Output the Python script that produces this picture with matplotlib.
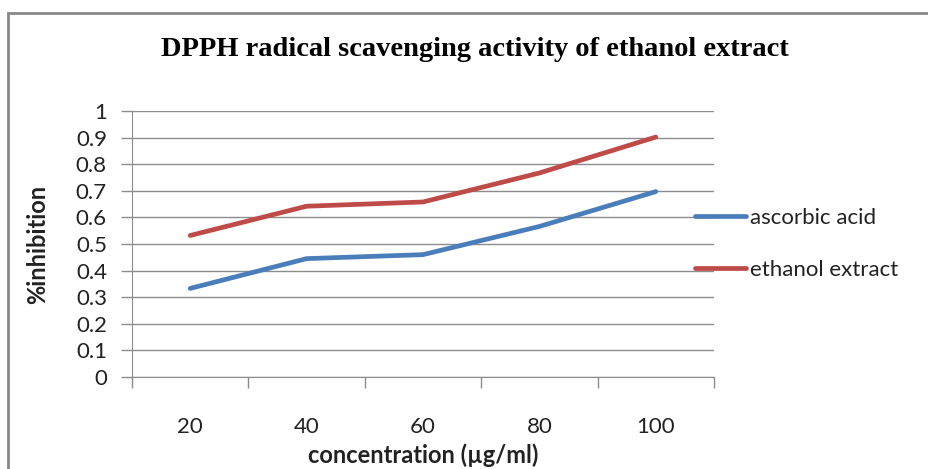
import matplotlib
matplotlib.use("Agg")
import matplotlib.pyplot as plt
from matplotlib.patches import Rectangle

# data
concentrations = ["20", "40", "60", "80", "100"]
ascorbic_acid = [0.333, 0.445, 0.460, 0.566, 0.697]
ethanol_extract = [0.532, 0.642, 0.658, 0.767, 0.902]
y_ticks = [0, 0.1, 0.2, 0.3, 0.4, 0.5, 0.6, 0.7, 0.8, 0.9, 1]
y_tick_labels = ["0", "0.1", "0.2", "0.3", "0.4", "0.5", "0.6", "0.7", "0.8", "0.9", "1"]

GRID = "#8c8c8c"
BLUE = "#4a7ebb"
RED = "#be4b48"
TEXT = "#222222"

plt.rcParams["font.family"] = ["Lato", "DejaVu Sans"]

W, H = 929, 469
fig = plt.figure(figsize=(W / 100, H / 100), dpi=100)
ax = fig.add_axes([132 / W, 1 - 377 / H, (714 - 132) / W, (377 - 111) / H])

x = list(range(len(concentrations)))
ax.plot(x, ascorbic_acid, color=BLUE, lw=3.4, label="ascorbic acid", solid_capstyle="round")
ax.plot(x, ethanol_extract, color=RED, lw=3.4, label="ethanol extract", solid_capstyle="round")

ax.set_xlim(-0.5, len(concentrations) - 0.5)
ax.set_ylim(0, 1)
ax.set_yticks(y_ticks)
ax.set_yticklabels(y_tick_labels, fontsize=16, color=TEXT)
ax.set_xticks(x)
ax.set_xticklabels(concentrations, fontsize=16, color=TEXT)
ax.set_xticks([i - 0.5 for i in range(len(concentrations) + 1)], minor=True)
ax.tick_params(axis="x", which="major", length=0, pad=29)
ax.tick_params(axis="x", which="minor", length=8, color=GRID, width=1)
ax.tick_params(axis="y", length=8, color=GRID, width=1, pad=10)

ax.grid(axis="y", color=GRID, lw=1)
ax.set_axisbelow(True)
for side in ["top", "right"]:
    ax.spines[side].set_visible(False)
for side in ["left", "bottom"]:
    ax.spines[side].set_color(GRID)

ax.set_xlabel("concentration (µg/ml)", fontsize=17, fontweight="bold", color=TEXT)
ax.xaxis.set_label_coords(0.5, -(455 - 377) / (377 - 111))
ax.set_ylabel("%inhibition", fontsize=17, fontweight="bold", color=TEXT)
ax.yaxis.set_label_coords(-(132 - 38) / (714 - 132), 0.5)
ax.yaxis.label.set_va("center")
ax.xaxis.label.set_va("center")

fig.text(475 / W, 1 - 50 / H, "DPPH radical scavenging activity of ethanol extract",
         family="Liberation Serif", fontweight="bold", fontsize=20.5, color="black",
         ha="center", va="center")

ax.legend(loc="center left", bbox_to_anchor=(686 / W, 1 - 244 / H), bbox_transform=fig.transFigure,
          frameon=False, fontsize=16, handlelength=2.3, handletextpad=0.2, labelspacing=1.45,
          borderaxespad=0, labelcolor=TEXT)

fig.patches.append(Rectangle((8 / W, -0.1), 1.2, 1.1 - 13 / H, transform=fig.transFigure,
                             fill=False, edgecolor="#888888", lw=2))

fig.savefig("out.png", dpi=100)
